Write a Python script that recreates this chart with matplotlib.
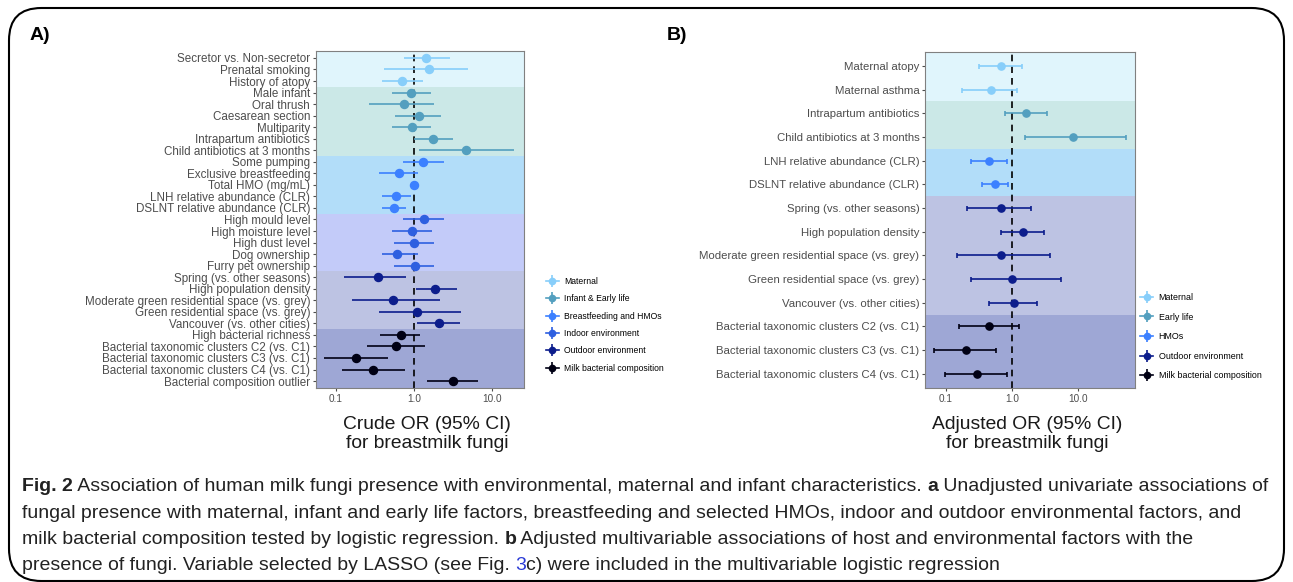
import matplotlib
matplotlib.use("Agg")
import matplotlib.pyplot as plt
from matplotlib import font_manager
from matplotlib.font_manager import FontProperties
from matplotlib.lines import Line2D
from matplotlib.patches import FancyBboxPatch
import numpy as np

plt.rcParams['font.family'] = ['Liberation Sans', 'DejaVu Sans']

# --- Panel A: crude (univariate) odds ratios ---
a_labels = [
    "Secretor vs. Non-secretor", "Prenatal smoking", "History of atopy",
    "Male infant", "Oral thrush", "Caesarean section", "Multiparity",
    "Intrapartum antibiotics", "Child antibiotics at 3 months",
    "Some pumping", "Exclusive breastfeeding", "Total HMO (mg/mL)",
    "LNH relative abundance (CLR)", "DSLNT relative abundance (CLR)",
    "High mould level", "High moisture level", "High dust level",
    "Dog ownership", "Furry pet ownership",
    "Spring (vs. other seasons)", "High population density",
    "Moderate green residential space (vs. grey)",
    "Green residential space (vs. grey)", "Vancouver (vs. other cities)",
    "High bacterial richness", "Bacterial taxonomic clusters C2 (vs. C1)",
    "Bacterial taxonomic clusters C3 (vs. C1)",
    "Bacterial taxonomic clusters C4 (vs. C1)", "Bacterial composition outlier",
]
a_or = [1.43, 1.55, 0.71, 0.92, 0.74, 1.15, 0.94, 1.77, 4.62,
        1.31, 0.64, 1.00, 0.59, 0.56,
        1.34, 0.94, 1.00, 0.61, 1.02,
        0.35, 1.86, 0.54, 1.08, 2.06,
        0.68, 0.59, 0.18, 0.30, 3.16]
a_lo = [0.74, 0.41, 0.39, 0.52, 0.27, 0.58, 0.53, 1.00, 1.17,
        0.73, 0.36, 0.89, 0.39, 0.39,
        0.73, 0.53, 0.56, 0.39, 0.56,
        0.126, 1.06, 0.16, 0.36, 1.10,
        0.37, 0.25, 0.071, 0.12, 1.48]
a_hi = [2.89, 4.96, 1.30, 1.65, 1.79, 2.20, 1.67, 3.13, 19.2,
        2.41, 1.14, 1.15, 0.91, 0.78,
        2.41, 1.68, 1.79, 1.12, 1.80,
        0.78, 3.50, 2.16, 3.98, 3.83,
        1.20, 1.39, 0.47, 0.77, 6.57]
a_groups = (["Maternal"] * 3 + ["Infant & Early life"] * 6
            + ["Breastfeeding and HMOs"] * 5 + ["Indoor environment"] * 5
            + ["Outdoor environment"] * 5 + ["Milk bacterial composition"] * 5)

# --- Panel B: adjusted odds ratios ---
b_labels = [
    "Maternal atopy", "Maternal asthma", "Intrapartum antibiotics",
    "Child antibiotics at 3 months", "LNH relative abundance (CLR)",
    "DSLNT relative abundance (CLR)", "Spring (vs. other seasons)",
    "High population density", "Moderate green residential space (vs. grey)",
    "Green residential space (vs. grey)", "Vancouver (vs. other cities)",
    "Bacterial taxonomic clusters C2 (vs. C1)",
    "Bacterial taxonomic clusters C3 (vs. C1)",
    "Bacterial taxonomic clusters C4 (vs. C1)",
]
b_or = [0.67, 0.48, 1.61, 8.35, 0.45, 0.56, 0.68, 1.45, 0.67, 1.00, 1.05, 0.45, 0.20, 0.29]
b_lo = [0.32, 0.175, 0.79, 1.57, 0.24, 0.35, 0.21, 0.69, 0.149, 0.237, 0.44, 0.158, 0.066, 0.095]
b_hi = [1.42, 1.20, 3.34, 52.2, 0.83, 0.87, 1.94, 3.01, 3.80, 5.50, 2.36, 1.28, 0.57, 0.83]
b_groups = (["Maternal"] * 2 + ["Early life"] * 2 + ["HMOs"] * 2
            + ["Outdoor environment"] * 5 + ["Milk bacterial composition"] * 3)

point_col = {
    "Maternal": "#87CEFA", "Infant & Early life": "#539FBF", "Early life": "#539FBF",
    "Breastfeeding and HMOs": "#3C80FF", "HMOs": "#3C80FF",
    "Indoor environment": "#2E5FE0", "Outdoor environment": "#0C1D8C",
    "Milk bacterial composition": "#000014",
}
band_col = {
    "Maternal": "#E0F5FC", "Infant & Early life": "#CBE8E7", "Early life": "#CBE8E7",
    "Breastfeeding and HMOs": "#B2DDF9", "HMOs": "#B2DDF9",
    "Indoor environment": "#C3CBF9", "Outdoor environment": "#BDC3E3",
    "Milk bacterial composition": "#9EA7D5",
}

W, H = 1293, 582
fig = plt.figure(figsize=(W / 100, H / 100), dpi=100)


def draw_panel(ax, labels, est, lo, hi, groups, xlim, capsize, ms, fs):
    n = len(labels)
    y = np.arange(n)
    est, lo, hi = np.asarray(est), np.asarray(lo), np.asarray(hi)
    order = list(dict.fromkeys(groups))
    for gi, g in enumerate(order):
        idx = [i for i, gg in enumerate(groups) if gg == g]
        top = min(idx) - 0.5 if gi > 0 else -5
        bot = max(idx) + 0.5 if gi < len(order) - 1 else n + 5
        ax.axhspan(top, bot, color=band_col[g], lw=0, zorder=0)
    ax.axvline(1, color="black", ls=(0, (4, 3)), lw=1.2, zorder=1)
    for g in order:
        m = np.array([gg == g for gg in groups])
        ax.errorbar(est[m], y[m], xerr=[est[m] - lo[m], hi[m] - est[m]], fmt="o",
                    color=point_col[g], ms=ms, elinewidth=1.2, capsize=capsize,
                    capthick=1.2, zorder=3)
    ax.set_xscale("log")
    ax.set_xlim(*xlim)
    ax.set_ylim(n - 1 + 0.6, -0.6)
    ax.set_yticks(y)
    ax.set_yticklabels(labels, fontsize=fs, color="#4D4D4D")
    ax.set_xticks([0.1, 1, 10])
    ax.set_xticklabels(["0.1", "1.0", "10.0"], fontsize=7.2, color="#4D4D4D")
    ax.minorticks_off()
    ax.tick_params(axis="both", length=2.2, width=0.8, color="#4D4D4D", pad=2)
    for s in ax.spines.values():
        s.set_color("#808080")
        s.set_linewidth(0.8)


def legend_for(groups, x_px, y_px, fs, spacing):
    order = list(dict.fromkeys(groups))
    handles = [(Line2D([], [], color=point_col[g], lw=1.2, marker="|", ms=9, mew=1.2),
                Line2D([], [], color=point_col[g], lw=0, marker="o", ms=4.5))
               for g in order]
    fig.legend(handles, order, loc="upper left", bbox_to_anchor=(x_px / W, 1 - y_px / H),
               frameon=False, fontsize=fs, labelspacing=spacing, handlelength=1.5,
               handletextpad=0.6, borderpad=0, borderaxespad=0)


axA = fig.add_axes([316 / W, 1 - 388 / H, (524 - 316) / W, (388 - 51) / H])
draw_panel(axA, a_labels, a_or, a_lo, a_hi, a_groups, (0.056, 25.4), 0, 5.8, 8.4)
axB = fig.add_axes([925.3 / W, 1 - 388 / H, (1134.7 - 925.3) / W, (388 - 51.7) / H])
draw_panel(axB, b_labels, b_or, b_lo, b_hi, b_groups, (0.0486, 71.6), 1.8, 5.2, 8.2)

for cx, txt in [(427, "Crude OR (95% CI)\nfor breastmilk fungi"),
                (1027, "Adjusted OR (95% CI)\nfor breastmilk fungi")]:
    fig.text(cx / W, 1 - 434 / H, txt, ha="center", va="center", fontsize=13.9,
             color="#1A1A1A", linespacing=1.15)

legend_for(a_groups, 546, 277, 6.2, 0.97)
legend_for(b_groups, 1140, 293, 6.4, 1.19)

fig.text(30 / W, 1 - 35 / H, "A)", fontsize=14, fontweight="bold", va="center")
fig.text(667 / W, 1 - 35 / H, "B)", fontsize=14, fontweight="bold", va="center")

# rounded frame around the whole figure
fig.patches.append(FancyBboxPatch((9 / W, 1 - 581 / H), (1284 - 9) / W, (581 - 8) / H,
                                  boxstyle="round,pad=0,rounding_size=0.025",
                                  transform=fig.transFigure, fill=False,
                                  ec="black", lw=1.5, mutation_aspect=W / H))

# --- caption ---
caption = [
    [("Fig. 2", "bold"), (" Association of human milk fungi presence with environmental, maternal and infant characteristics. ", "normal"),
     ("a", "bold"), (" Unadjusted univariate associations of", "normal")],
    [("fungal presence with maternal, infant and early life factors, breastfeeding and selected HMOs, indoor and outdoor environmental factors, and", "normal")],
    [("milk bacterial composition tested by logistic regression. ", "normal"), ("b", "bold"),
     (" Adjusted multivariable associations of host and environmental factors with the", "normal")],
    [("presence of fungi. Variable selected by LASSO (see Fig. ", "normal"), ("3", "link"),
     ("c) were included in the multivariable logistic regression", "normal")],
]
target_w = 1266 - 22
renderer = fig.canvas.get_renderer()


def as_weight(w):
    if isinstance(w, (int, float)):
        return int(w)
    return font_manager.weight_dict.get(str(w), 400)


def is_narrow(f):
    st = str(f.stretch).lower()
    return "Condensed" in f.name or "Narrow" in f.name or "condensed" in st


def width_of(s, prop):
    t = fig.text(0, 0, "|" + s + "|", fontproperties=prop)
    w = t.get_window_extent(renderer).width
    t.set_text("||")
    w -= t.get_window_extent(renderer).width
    t.remove()
    return w


# choose the installed sans face whose width at ~14pt best matches the original line
known = {"Liberation Sans", "Liberation Sans Narrow", "Open Sans", "Noto Sans",
         "Roboto", "Lato", "Inter", "DejaVu Sans"}
line1 = "".join(s for s, _ in caption[0])
best, best_err = None, None
for f in font_manager.fontManager.ttflist:
    if f.style != "normal" or not 300 <= as_weight(f.weight) <= 450:
        continue
    if not (is_narrow(f) or f.name in known) or "Extra" in f.name:
        continue
    try:
        w = width_of(line1, FontProperties(fname=f.fname, size=14))
    except Exception:
        continue
    err = abs(w - target_w) + abs(as_weight(f.weight) - 350) * 0.2
    if best_err is None or err < best_err:
        best, best_err = f, err

reg_prop = FontProperties(fname=best.fname) if best else FontProperties(family="Liberation Sans")
bold_files = [f for f in font_manager.fontManager.ttflist
              if best and f.name == best.name and f.style == "normal" and as_weight(f.weight) >= 600]
if bold_files:
    bf = min(bold_files, key=lambda f: abs(as_weight(f.weight) - 700))
    bold_prop = FontProperties(fname=bf.fname)
else:
    bold_prop = FontProperties(family=best.name if best else "Liberation Sans", weight="bold")


def prop_for(kind, size):
    p = (bold_prop if kind == "bold" else reg_prop).copy()
    p.set_size(size)
    return p


def piece_width(s, kind, size):
    return width_of(s, prop_for(kind, size))


cap_size = 14.0
for _ in range(3):
    cap_size *= target_w / sum(piece_width(s, k, cap_size) for s, k in caption[0])
cap_size = max(12.0, min(cap_size, 16.0))

for line, y_px in zip(caption, [491, 518, 544, 570]):
    x = 22.0
    for s, k in line:
        fig.text(x / W, 1 - y_px / H, s, fontproperties=prop_for(k, cap_size), va="baseline",
                 color="#2B3BD6" if k == "link" else "#222222")
        x += piece_width(s, k, cap_size)

fig.savefig("out.png", dpi=100)
